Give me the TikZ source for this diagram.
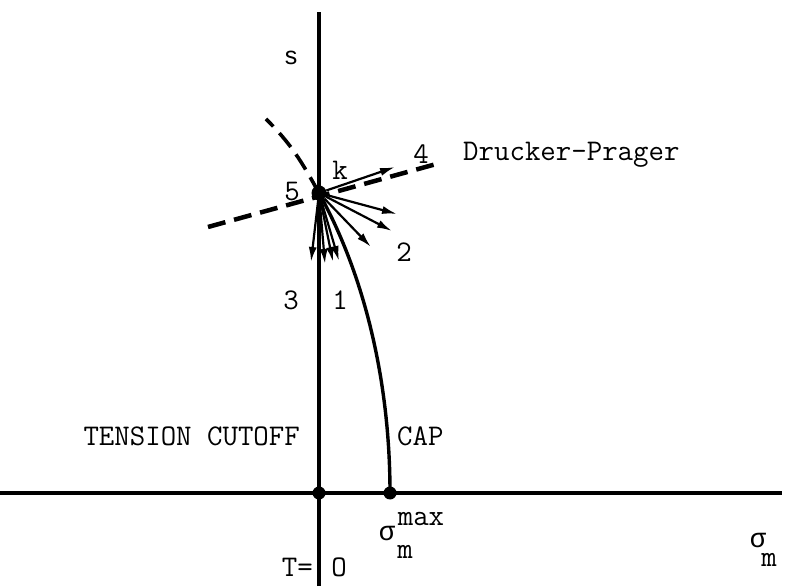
\documentclass[tikz,border=0pt]{standalone}
\usepackage{fontspec}
\setsansfont{Liberation Sans}
\newfontfamily\greekmono{Liberation Mono}
\usetikzlibrary{arrows.meta}

\begin{document}
\begin{tikzpicture}[
  x=1pt,
  y=1pt,
  >={Latex[length=15pt,width=8pt]},
  axis/.style={line width=3.6pt},
  capline/.style={line width=3.4pt},
  flow/.style={->,line width=2.2pt},
  yieldline/.style={line width=4.5pt,dash pattern=on 18pt off 9pt},
  dot/.style={circle,fill,inner sep=0pt,minimum size=13pt},
  labeltext/.style={font=\fontsize{30}{32}\selectfont\ttfamily,inner sep=0pt},
  greeklabel/.style={font=\fontsize{27}{29}\selectfont\greekmono,inner sep=0pt},
  axislabel/.style={font=\fontsize{25}{27}\selectfont\sffamily,inner sep=0pt}
]
\useasboundingbox (0,0) rectangle (791,586);

% axes
\coordinate (stop) at (319,574);
\coordinate (sbot) at (319,0);
\coordinate (mleft) at (0,93);
\coordinate (mright) at (782,93);
\draw[axis] (sbot) -- (stop);
\draw[axis] (mleft) -- (mright);

\node[dot] (origin) at (319,93) {};
\node[dot] (capfoot) at (390,93) {};
\node[dot,minimum size=15pt] (k) at (319,393) {};

% Drucker-Prager line and cap
\coordinate (dpA) at (208,359);
\coordinate (dpB) at (440,423);
\coordinate (capend) at (266,467);
\draw[yieldline] (dpA) -- (dpB);
\draw[capline] (capfoot.center) to[out=90,in=-61,out looseness=0.94,in looseness=0.77] (k.center);
\draw[yieldline,line width=3.6pt] (k.center) to[out=119,in=-44.7] (capend);

% stress increments
\coordinate (tip4) at (395,419);
\coordinate (tipa) at (397,372);
\coordinate (tipb) at (392,355);
\coordinate (tipc) at (371,339);
\coordinate (tipd) at (339,325);
\coordinate (tipe) at (333,324);
\coordinate (tipf) at (325,322);
\coordinate (tipg) at (311,324);
\draw[flow] (k) -- (tip4);
\foreach \t in {a,b,c,d,e,f,g}
  \draw[flow] (k) -- (tip\t);

% labels
\node[axislabel] (slabel) at (291,528) {s};
\node[labeltext] (klabel) at (340,416) {k};
\node[labeltext] (four) at (421,432) {4};
\node[labeltext,anchor=base west] (dplabel) at (463,425) {Drucker-Prager};
\node[labeltext] (five) at (292,394) {5};
\node[labeltext] (two) at (404,334) {2};
\node[labeltext] (three) at (291,286) {3};
\node[labeltext] (one) at (340,286) {1};
\node[labeltext,anchor=east] (tension) at (300,150) {TENSION CUTOFF};
\node[labeltext,anchor=west] (caplabel) at (397,150) {CAP};
\node[labeltext,anchor=east] (tlabel) at (313,19) {T=};
\node[labeltext] (zero) at (339,19) {O};
\node[greeklabel] (sigmax) at (387,53) {σ};
\node[labeltext] (sigmaxsup) at (421,67) {max};
\node[labeltext] (sigmaxsub) at (405,34) {m};
\node[greeklabel] (sigm) at (758,46) {σ};
\node[labeltext] (sigmsub) at (769,26) {m};

\end{tikzpicture}
\end{document}
